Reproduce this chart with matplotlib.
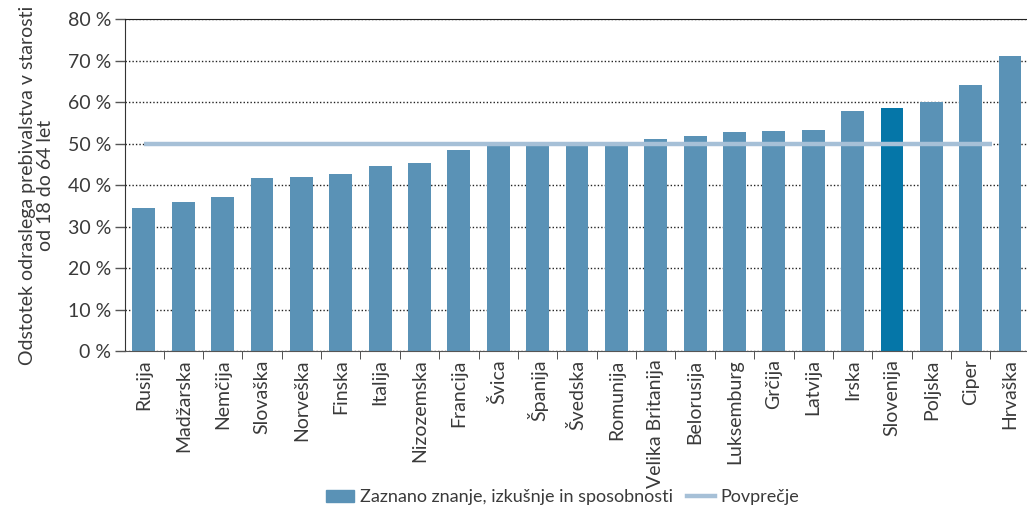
import numpy as np
import matplotlib.pyplot as plt
from matplotlib.lines import Line2D
from matplotlib.patches import Patch
from matplotlib.ticker import FixedLocator

plt.rcParams["font.family"] = ["Lato", "DejaVu Sans"]

# podatki
drzave = ["Rusija", "Madžarska", "Nemčija", "Slovaška", "Norveška", "Finska",
          "Italija", "Nizozemska", "Francija", "Švica", "Španija", "Švedska",
          "Romunija", "Velika Britanija", "Belorusija", "Luksemburg", "Grčija",
          "Latvija", "Irska", "Slovenija", "Poljska", "Ciper", "Hrvaška"]
vrednosti = [34.5, 36.0, 37.2, 41.7, 42.0, 42.7, 44.6, 45.4, 48.5, 49.6, 49.7,
             49.8, 49.9, 51.2, 51.9, 52.8, 53.1, 53.3, 57.9, 58.6, 60.1, 64.2, 71.2]
povprecje = 50.0
yticks = [0, 10, 20, 30, 40, 50, 60, 70, 80]

BAR = "#5a92b6"
SLO = "#0576a8"
AVG = "#a6c0d7"
TXT = "#3a3a3a"
FS = 14

fig = plt.figure(figsize=(10.27, 5.11), dpi=100)
ax = fig.add_axes([0.1217, 0.313, 0.8783, 0.649])

x = np.arange(len(drzave))
barve = [SLO if d == "Slovenija" else BAR for d in drzave]
ax.bar(x, vrednosti, width=0.58, color=barve, zorder=2)
ax.hlines(povprecje, 0, 21.55, color=AVG, lw=3.2, zorder=3)

ax.set_xlim(-0.48, 22.43)
ax.set_ylim(0, 80)
ax.set_yticks(yticks)
ax.set_yticklabels([f"{t} %" for t in yticks], fontsize=FS, color=TXT)
ax.set_xticks(x)
ax.set_xticklabels(drzave, rotation=90, fontsize=FS, color=TXT)
ax.tick_params(axis="x", length=0, pad=6)
ax.xaxis.set_minor_locator(FixedLocator(x[:-1] + 0.5))
ax.tick_params(axis="x", which="minor", length=6, color="#333333", direction="out")
ax.tick_params(axis="y", length=7, color="#555555", width=1, pad=3)

ax.grid(axis="y", linestyle=(0, (1, 1.5)), color="#222222", lw=1, zorder=0)
ax.spines["right"].set_visible(False)
ax.spines["top"].set_color("#222222")
ax.spines["left"].set_color("#333333")
ax.spines["bottom"].set_color("#555555")

ax.set_ylabel("Odstotek odraslega prebivalstva v starosti\nod 18 do 64 let",
              fontsize=FS, color=TXT, labelpad=10, linespacing=1.05)

handles = [Patch(color=BAR, label="Zaznano znanje, izkušnje in sposobnosti"),
           Line2D([0], [0], color=AVG, lw=3.2, label="Povprečje")]
fig.legend(handles=handles, loc="center", bbox_to_anchor=(0.548, 0.027), ncol=2,
           frameon=False, handlelength=1.55, handletextpad=0.3,
           columnspacing=0.8, labelcolor=TXT, prop={"size": 13})

fig.savefig("out.png", dpi=100)
